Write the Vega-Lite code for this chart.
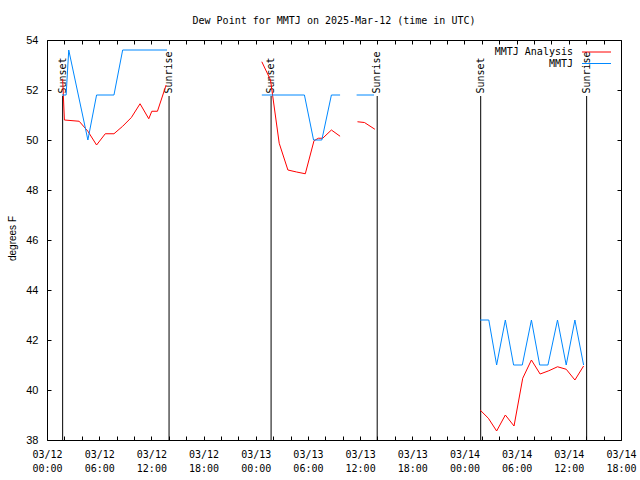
{
  "$schema": "https://vega.github.io/schema/vega-lite/v6.json",
  "width": 574,
  "height": 400,
  "autosize": {"type": "none"},
  "padding": {"left": 47, "top": 40, "right": 19, "bottom": 40},
  "background": "white",
  "title": {"text": "Dew Point for MMTJ on 2025-Mar-12 (time in UTC)", "font": "DejaVu Sans Mono", "fontSize": 10, "fontWeight": "normal", "color": "black", "anchor": "middle", "offset": 8},
  "datasets": {
    "obs": [
      {"t": "2025-03-12T01:48:00Z", "v": 52.45, "series": "MMTJ Analysis", "seg": "rA"},
      {"t": "2025-03-12T02:00:00Z", "v": 50.8, "series": "MMTJ Analysis", "seg": "rA"},
      {"t": "2025-03-12T03:42:00Z", "v": 50.75, "series": "MMTJ Analysis", "seg": "rA"},
      {"t": "2025-03-12T04:42:00Z", "v": 50.35, "series": "MMTJ Analysis", "seg": "rA"},
      {"t": "2025-03-12T05:42:00Z", "v": 49.8, "series": "MMTJ Analysis", "seg": "rA"},
      {"t": "2025-03-12T06:42:00Z", "v": 50.25, "series": "MMTJ Analysis", "seg": "rA"},
      {"t": "2025-03-12T07:42:00Z", "v": 50.25, "series": "MMTJ Analysis", "seg": "rA"},
      {"t": "2025-03-12T08:42:00Z", "v": 50.55, "series": "MMTJ Analysis", "seg": "rA"},
      {"t": "2025-03-12T09:42:00Z", "v": 50.9, "series": "MMTJ Analysis", "seg": "rA"},
      {"t": "2025-03-12T10:42:00Z", "v": 51.45, "series": "MMTJ Analysis", "seg": "rA"},
      {"t": "2025-03-12T11:42:00Z", "v": 50.85, "series": "MMTJ Analysis", "seg": "rA"},
      {"t": "2025-03-12T12:03:00Z", "v": 51.15, "series": "MMTJ Analysis", "seg": "rA"},
      {"t": "2025-03-12T12:42:00Z", "v": 51.15, "series": "MMTJ Analysis", "seg": "rA"},
      {"t": "2025-03-12T13:42:00Z", "v": 52.2, "series": "MMTJ Analysis", "seg": "rA"},
      {"t": "2025-03-13T00:42:00Z", "v": 53.13, "series": "MMTJ Analysis", "seg": "rB"},
      {"t": "2025-03-13T01:42:00Z", "v": 52.4, "series": "MMTJ Analysis", "seg": "rB"},
      {"t": "2025-03-13T02:42:00Z", "v": 49.87, "series": "MMTJ Analysis", "seg": "rB"},
      {"t": "2025-03-13T03:42:00Z", "v": 48.8, "series": "MMTJ Analysis", "seg": "rB"},
      {"t": "2025-03-13T04:42:00Z", "v": 48.72, "series": "MMTJ Analysis", "seg": "rB"},
      {"t": "2025-03-13T05:42:00Z", "v": 48.65, "series": "MMTJ Analysis", "seg": "rB"},
      {"t": "2025-03-13T06:42:00Z", "v": 49.97, "series": "MMTJ Analysis", "seg": "rB"},
      {"t": "2025-03-13T07:12:00Z", "v": 50.07, "series": "MMTJ Analysis", "seg": "rB"},
      {"t": "2025-03-13T07:42:00Z", "v": 50.07, "series": "MMTJ Analysis", "seg": "rB"},
      {"t": "2025-03-13T08:42:00Z", "v": 50.4, "series": "MMTJ Analysis", "seg": "rB"},
      {"t": "2025-03-13T09:42:00Z", "v": 50.15, "series": "MMTJ Analysis", "seg": "rB"},
      {"t": "2025-03-13T11:42:00Z", "v": 50.73, "series": "MMTJ Analysis", "seg": "rC"},
      {"t": "2025-03-13T12:30:00Z", "v": 50.7, "series": "MMTJ Analysis", "seg": "rC"},
      {"t": "2025-03-13T13:42:00Z", "v": 50.43, "series": "MMTJ Analysis", "seg": "rC"},
      {"t": "2025-03-14T01:48:00Z", "v": 39.2, "series": "MMTJ Analysis", "seg": "rD"},
      {"t": "2025-03-14T02:45:00Z", "v": 38.87, "series": "MMTJ Analysis", "seg": "rD"},
      {"t": "2025-03-14T03:42:00Z", "v": 38.36, "series": "MMTJ Analysis", "seg": "rD"},
      {"t": "2025-03-14T04:42:00Z", "v": 39.0, "series": "MMTJ Analysis", "seg": "rD"},
      {"t": "2025-03-14T05:42:00Z", "v": 38.56, "series": "MMTJ Analysis", "seg": "rD"},
      {"t": "2025-03-14T06:42:00Z", "v": 40.47, "series": "MMTJ Analysis", "seg": "rD"},
      {"t": "2025-03-14T07:42:00Z", "v": 41.2, "series": "MMTJ Analysis", "seg": "rD"},
      {"t": "2025-03-14T08:42:00Z", "v": 40.64, "series": "MMTJ Analysis", "seg": "rD"},
      {"t": "2025-03-14T09:42:00Z", "v": 40.77, "series": "MMTJ Analysis", "seg": "rD"},
      {"t": "2025-03-14T10:42:00Z", "v": 40.93, "series": "MMTJ Analysis", "seg": "rD"},
      {"t": "2025-03-14T11:42:00Z", "v": 40.83, "series": "MMTJ Analysis", "seg": "rD"},
      {"t": "2025-03-14T12:42:00Z", "v": 40.4, "series": "MMTJ Analysis", "seg": "rD"},
      {"t": "2025-03-14T13:42:00Z", "v": 40.96, "series": "MMTJ Analysis", "seg": "rD"},
      {"t": "2025-03-12T01:43:00Z", "v": 51.8, "series": "MMTJ", "seg": "bA"},
      {"t": "2025-03-12T02:12:00Z", "v": 51.8, "series": "MMTJ", "seg": "bA"},
      {"t": "2025-03-12T02:30:00Z", "v": 53.6, "series": "MMTJ", "seg": "bA"},
      {"t": "2025-03-12T04:42:00Z", "v": 50.0, "series": "MMTJ", "seg": "bA"},
      {"t": "2025-03-12T05:42:00Z", "v": 51.8, "series": "MMTJ", "seg": "bA"},
      {"t": "2025-03-12T07:42:00Z", "v": 51.8, "series": "MMTJ", "seg": "bA"},
      {"t": "2025-03-12T08:42:00Z", "v": 53.6, "series": "MMTJ", "seg": "bA"},
      {"t": "2025-03-12T13:48:00Z", "v": 53.6, "series": "MMTJ", "seg": "bA"},
      {"t": "2025-03-13T00:42:00Z", "v": 51.8, "series": "MMTJ", "seg": "bB"},
      {"t": "2025-03-13T05:36:00Z", "v": 51.8, "series": "MMTJ", "seg": "bB"},
      {"t": "2025-03-13T06:39:00Z", "v": 50.0, "series": "MMTJ", "seg": "bB"},
      {"t": "2025-03-13T07:36:00Z", "v": 50.0, "series": "MMTJ", "seg": "bB"},
      {"t": "2025-03-13T08:42:00Z", "v": 51.8, "series": "MMTJ", "seg": "bB"},
      {"t": "2025-03-13T09:42:00Z", "v": 51.8, "series": "MMTJ", "seg": "bB"},
      {"t": "2025-03-13T11:36:00Z", "v": 51.8, "series": "MMTJ", "seg": "bC"},
      {"t": "2025-03-13T13:36:00Z", "v": 51.8, "series": "MMTJ", "seg": "bC"},
      {"t": "2025-03-14T01:48:00Z", "v": 42.8, "series": "MMTJ", "seg": "bD"},
      {"t": "2025-03-14T02:48:00Z", "v": 42.8, "series": "MMTJ", "seg": "bD"},
      {"t": "2025-03-14T03:42:00Z", "v": 41.0, "series": "MMTJ", "seg": "bD"},
      {"t": "2025-03-14T04:42:00Z", "v": 42.8, "series": "MMTJ", "seg": "bD"},
      {"t": "2025-03-14T05:39:00Z", "v": 41.0, "series": "MMTJ", "seg": "bD"},
      {"t": "2025-03-14T06:39:00Z", "v": 41.0, "series": "MMTJ", "seg": "bD"},
      {"t": "2025-03-14T07:42:00Z", "v": 42.8, "series": "MMTJ", "seg": "bD"},
      {"t": "2025-03-14T08:39:00Z", "v": 41.0, "series": "MMTJ", "seg": "bD"},
      {"t": "2025-03-14T09:36:00Z", "v": 41.0, "series": "MMTJ", "seg": "bD"},
      {"t": "2025-03-14T10:42:00Z", "v": 42.8, "series": "MMTJ", "seg": "bD"},
      {"t": "2025-03-14T11:42:00Z", "v": 41.0, "series": "MMTJ", "seg": "bD"},
      {"t": "2025-03-14T12:42:00Z", "v": 42.8, "series": "MMTJ", "seg": "bD"},
      {"t": "2025-03-14T13:42:00Z", "v": 41.0, "series": "MMTJ", "seg": "bD"}
    ],
    "sun": [
      {"t": "2025-03-12T01:48:00Z", "label": "Sunset"},
      {"t": "2025-03-12T14:02:00Z", "label": "Sunrise"},
      {"t": "2025-03-13T01:46:00Z", "label": "Sunset"},
      {"t": "2025-03-13T13:58:00Z", "label": "Sunrise"},
      {"t": "2025-03-14T01:52:00Z", "label": "Sunset"},
      {"t": "2025-03-14T14:03:00Z", "label": "Sunrise"}
    ]
  },
  "layer": [
    {
      "data": {"name": "sun"},
      "mark": {"type": "rule", "color": "black", "strokeWidth": 1},
      "encoding": {
        "x": {"field": "t", "type": "temporal",
              "scale": {"type": "utc", "domain": [1741737600000, 1741975200000], "nice": false},
              "axis": {"orient": "top", "labels": false, "title": null,
                       "values": [1741737600000, 1741744800000, 1741752000000, 1741759200000, 1741766400000, 1741773600000, 1741780800000, 1741788000000, 1741795200000, 1741802400000, 1741809600000, 1741816800000, 1741824000000, 1741831200000, 1741838400000, 1741845600000, 1741852800000, 1741860000000, 1741867200000, 1741874400000, 1741881600000, 1741888800000, 1741896000000, 1741903200000, 1741910400000, 1741917600000, 1741924800000, 1741932000000, 1741939200000, 1741946400000, 1741953600000, 1741960800000, 1741968000000, 1741975200000],
                       "tickSize": -4, "domain": false, "grid": false, "tickColor": "black"}},
        "y": {"datum": 38, "type": "quantitative",
              "scale": {"domain": [38, 54], "nice": false, "zero": false},
              "axis": {"orient": "right", "labels": false, "title": null, "values": [38, 40, 42, 44, 46, 48, 50, 52, 54], "tickSize": -4, "domain": false, "grid": false, "tickColor": "black"}},
        "y2": {"datum": 51.76}
      }
    },
    {
      "data": {"name": "sun"},
      "mark": {"type": "text", "angle": 270, "align": "left", "baseline": "middle", "font": "DejaVu Sans Mono", "fontSize": 10, "color": "black"},
      "encoding": {
        "x": {"field": "t", "type": "temporal", "axis": null},
        "y": {"datum": 51.86, "type": "quantitative", "axis": null},
        "text": {"field": "label"}
      }
    },
    {
      "data": {"name": "obs"},
      "mark": {"type": "line", "strokeWidth": 1, "interpolate": "linear"},
      "encoding": {
        "x": {"field": "t", "type": "temporal",
              "axis": {"orient": "bottom", "title": null,
                       "values": [1741737600000, 1741744800000, 1741752000000, 1741759200000, 1741766400000, 1741773600000, 1741780800000, 1741788000000, 1741795200000, 1741802400000, 1741809600000, 1741816800000, 1741824000000, 1741831200000, 1741838400000, 1741845600000, 1741852800000, 1741860000000, 1741867200000, 1741874400000, 1741881600000, 1741888800000, 1741896000000, 1741903200000, 1741910400000, 1741917600000, 1741924800000, 1741932000000, 1741939200000, 1741946400000, 1741953600000, 1741960800000, 1741968000000, 1741975200000],
                       "tickSize": -4, "domain": false, "grid": false, "tickColor": "black",
                       "labelExpr": "utchours(datum.value) % 6 == 0 ? [utcFormat(datum.value, '%m/%d'), utcFormat(datum.value, '%H:%M')] : ''",
                       "labelFont": "DejaVu Sans Mono", "labelFontSize": 10, "labelLineHeight": 14.5, "labelPadding": 13, "labelOverlap": false, "labelFlush": false, "labelBound": false, "labelColor": "black"}},
        "y": {"field": "v", "type": "quantitative",
              "axis": {"orient": "left", "title": "degrees F", "values": [38, 40, 42, 44, 46, 48, 50, 52, 54], "tickSize": -4, "domain": false, "grid": false, "tickColor": "black",
                       "labelFont": "Liberation Sans", "labelFontSize": 11, "labelPadding": 13, "labelColor": "black", "labelOverlap": false, "labelFlush": false, "labelBound": false,
                       "titleFont": "Liberation Sans", "titleFontSize": 10, "titleFontWeight": "normal", "titleColor": "black", "titleX": -35, "titleY": 198, "titleAngle": 270, "titleAlign": "center", "titleBaseline": "middle"}},
        "color": {"field": "series", "type": "nominal",
                  "scale": {"domain": ["MMTJ Analysis", "MMTJ"], "range": ["#ff0000", "#0088ff"]},
                  "legend": {"title": null, "orient": "none", "legendX": 544, "legendY": 6.5, "symbolType": "M-2.9,0H2.9", "symbolSize": 100, "symbolStrokeWidth": 1, "symbolFillColor": "transparent", "labelAlign": "right", "labelOffset": -29, "labelFont": "DejaVu Sans Mono", "labelFontSize": 10, "labelColor": "black", "rowPadding": 0.5, "padding": 0}},
        "detail": {"field": "seg", "type": "nominal"}
      }
    }
  ],
  "resolve": {"axis": {"x": "independent", "y": "independent"}},
  "config": {
    "view": {"stroke": "black", "strokeWidth": 1},
    "axis": {"grid": false}
  }
}
